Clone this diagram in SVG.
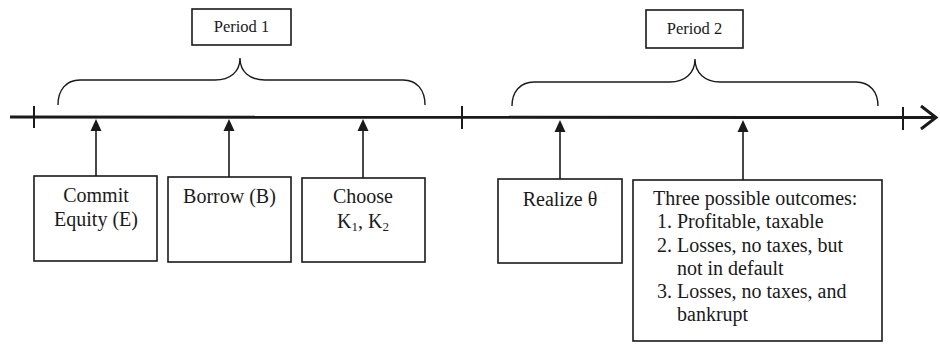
<svg xmlns="http://www.w3.org/2000/svg" width="940" height="344" viewBox="0 0 940 344">
<style>
.box{fill:#fff;stroke:#1a1a1a;stroke-width:1.6}
.t{font-family:"Liberation Serif","Times New Roman",serif;font-size:20px;fill:#1a1a1a}
.p{font-family:"Liberation Serif","Times New Roman",serif;font-size:16.5px;fill:#1a1a1a}
.c{text-anchor:middle}
.brace{fill:none;stroke:#1a1a1a;stroke-width:1.4}
.axis{fill:none;stroke:#1a1a1a;stroke-width:3}
.tick{fill:none;stroke:#1a1a1a;stroke-width:2}
.shaft{fill:none;stroke:#1a1a1a;stroke-width:1.6}
.head{fill:#1a1a1a}
</style>
<rect width="940" height="344" fill="#fff"/>
<g id="timeline">
<line class="axis" x1="10" y1="117" x2="935" y2="117.5"/>
<polyline class="axis" points="921,106 936,117.5 921,129"/>
<line class="tick" x1="34" y1="106" x2="34" y2="128"/>
<line class="tick" x1="462" y1="106" x2="462" y2="129"/>
<line class="tick" x1="903" y1="107" x2="903" y2="130"/>
</g>
<g id="period1">
<rect class="box" x="192" y="9" width="99" height="36"/>
<text class="p c" x="241.5" y="32">Period 1</text>
<path class="brace" d="M58,105 C58,90 66,80 80,80 L215,80 C230,80 240,72 240,58 C240,72 250,80 265,80 L403,80 C417,80 425,90 425,105"/>
</g>
<g id="period2">
<rect class="box" x="646" y="10" width="97" height="38"/>
<text class="p c" x="694.5" y="34">Period 2</text>
<path class="brace" d="M512,106 C512,92 520,82 534,82 L670,82 C685,82 695,73 695,59 C695,73 705,82 720,82 L856,82 C870,82 878,92 878,106"/>
</g>
<g id="connectors">
<line class="shaft" x1="96" y1="130" x2="96" y2="176"/>
<polygon class="head" points="96,119 90.5,131 101.5,131"/>
<line class="shaft" x1="229" y1="130" x2="229" y2="177"/>
<polygon class="head" points="229,119 223.5,131 234.5,131"/>
<line class="shaft" x1="363" y1="130" x2="363" y2="178"/>
<polygon class="head" points="363,119 357.5,131 368.5,131"/>
<line class="shaft" x1="560" y1="130" x2="560" y2="179"/>
<polygon class="head" points="560,120 554.5,132 565.5,132"/>
<line class="shaft" x1="743" y1="130" x2="743" y2="180"/>
<polygon class="head" points="743,120 737.5,132 748.5,132"/>
</g>
<g id="commit">
<rect class="box" x="34" y="176" width="123" height="85"/>
<text class="t c" x="96" y="202">Commit</text>
<text class="t c" x="96" y="226">Equity (E)</text>
</g>
<g id="borrow">
<rect class="box" x="168" y="177" width="123" height="85"/>
<text class="t c" x="229.5" y="203">Borrow (B)</text>
</g>
<g id="choose">
<rect class="box" x="302" y="178" width="123" height="84"/>
<text class="t c" x="363" y="203">Choose</text>
<text class="t c" x="363" y="228">K<tspan font-size="13" dy="3">1</tspan><tspan dy="-3">, K</tspan><tspan font-size="13" dy="3">2</tspan></text>
</g>
<g id="realize">
<rect class="box" x="498" y="179" width="124" height="84"/>
<text class="t c" x="560" y="206">Realize θ</text>
</g>
<g id="outcomes">
<rect class="box" x="633" y="180" width="249" height="161"/>
<text class="t" x="653" y="205">Three possible outcomes:</text>
<text class="t" x="657" y="228">1.</text>
<text class="t" x="677" y="228">Profitable, taxable</text>
<text class="t" x="657" y="252">2.</text>
<text class="t" x="677" y="252">Losses, no taxes, but</text>
<text class="t" x="677" y="275">not in default</text>
<text class="t" x="657" y="298">3.</text>
<text class="t" x="677" y="298">Losses, no taxes, and</text>
<text class="t" x="677" y="321">bankrupt</text>
</g>
</svg>
